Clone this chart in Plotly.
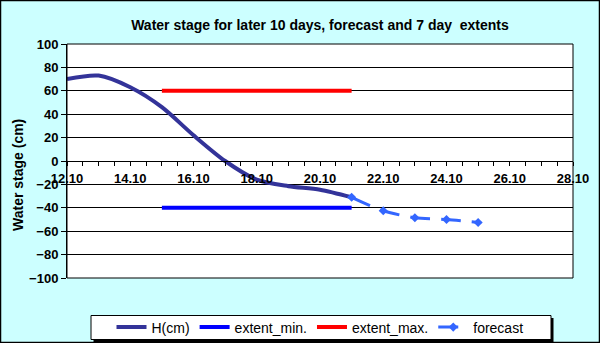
import plotly.graph_objects as go

# ---- data ----
h_days = [12, 13, 14, 15, 16, 17, 18, 19, 20, 21]
h_values = [70, 73, 63, 46, 22, 0, -16, -21.5, -24.5, -31]

ext_days = [15, 21]
ext_min = [-40, -40]
ext_max = [60, 60]

fc_days = [21, 22, 23, 24, 25]
fc_values = [-31, -42.5, -48.5, -50, -52.5]

tick_days = [12, 14, 16, 18, 20, 22, 24, 26, 28]
tick_labels = ["12.10", "14.10", "16.10", "18.10", "20.10", "22.10", "24.10", "26.10", "28.10"]

FONT = "Arial, Liberation Sans, sans-serif"

fig = go.Figure()
fig.add_trace(go.Scatter(x=h_days, y=h_values, mode="lines", name="H(cm)",
                         line=dict(color="#333399", width=4, shape="spline", smoothing=0.8)))
fig.add_trace(go.Scatter(x=ext_days, y=ext_min, mode="lines", name="extent_min.",
                         line=dict(color="#0000FF", width=4)))
fig.add_trace(go.Scatter(x=ext_days, y=ext_max, mode="lines", name="extent_max.",
                         line=dict(color="#FF0000", width=4)))
fig.add_trace(go.Scatter(x=fc_days, y=fc_values, mode="lines+markers", name="forecast",
                         line=dict(color="#3366FF", width=3, shape="spline", smoothing=0.8,
                                   dash="20px,11px"),
                         marker=dict(symbol="diamond", size=7, color="#3366FF")))

L, R, T, B = 67, 27, 44, 65
W, H = 600, 343
pw, ph = W - L - R, H - T - B

def px(x):
    return (x - L) / pw

def py(y):
    return (H - B - y) / ph

shapes = [
    # plot frame
    dict(type="rect", xref="paper", yref="paper", x0=0, y0=0, x1=1, y1=1,
         line=dict(color="black", width=1), layer="above"),
    # outer chart border
    dict(type="rect", xref="paper", yref="paper", x0=px(0.5), y0=py(342.5), x1=px(599.5), y1=py(0.5),
         line=dict(color="black", width=1.5), layer="below"),
    # legend shadow
    dict(type="rect", xref="paper", yref="paper", x0=px(93.5), y0=py(342), x1=px(553.5), y1=py(318),
         line=dict(width=0), fillcolor="black", layer="below"),
    # legend box
    dict(type="rect", xref="paper", yref="paper", x0=px(91), y0=py(339.5), x1=px(551), y1=py(315.5),
         line=dict(color="black", width=1), fillcolor="white", layer="below"),
]

fig.update_layout(
    width=W, height=H,
    margin=dict(l=L, r=R, t=T, b=B, autoexpand=False),
    paper_bgcolor="#CCFFFF",
    plot_bgcolor="white",
    font=dict(family=FONT, color="black"),
    title=dict(text="<b>Water stage for later 10 days, forecast and 7 day  extents</b>",
               x=px(320), xref="paper", xanchor="center",
               y=1 - 25 / H, yanchor="middle", font=dict(size=14, family=FONT)),
    showlegend=True,
    legend=dict(orientation="h", x=px(320), xanchor="center", y=py(327.5), yanchor="middle",
                bgcolor="rgba(0,0,0,0)", borderwidth=0,
                font=dict(size=14, family=FONT), traceorder="normal"),
    shapes=shapes,
    annotations=[dict(text="<b>Water stage (cm)</b>", textangle=-90, xref="paper", yref="paper",
                      x=px(18), y=py(175), xanchor="center", yanchor="middle", showarrow=False,
                      font=dict(size=14, family=FONT))],
)

fig.update_xaxes(range=[12, 28], anchor="free", position=0.5,
                 tickvals=tick_days, ticktext=tick_labels,
                 showline=True, linecolor="black", linewidth=1,
                 ticks="outside", ticklen=4, tickcolor="black", ticklabelstandoff=1,
                 minor=dict(dtick=0.5, tick0=12, ticks="outside", ticklen=4, tickcolor="black", showgrid=False),
                 showgrid=False, zeroline=False,
                 tickfont=dict(size=13, family=FONT, weight="bold"))
fig.update_yaxes(range=[-100, 100], dtick=20, tick0=-100,
                 showline=True, linecolor="black", linewidth=1,
                 ticks="outside", ticklen=5, tickcolor="black",
                 showgrid=True, gridcolor="black", gridwidth=1, zeroline=False,
                 tickfont=dict(size=13, family=FONT, weight="bold"))

fig.write_html("out.html")
